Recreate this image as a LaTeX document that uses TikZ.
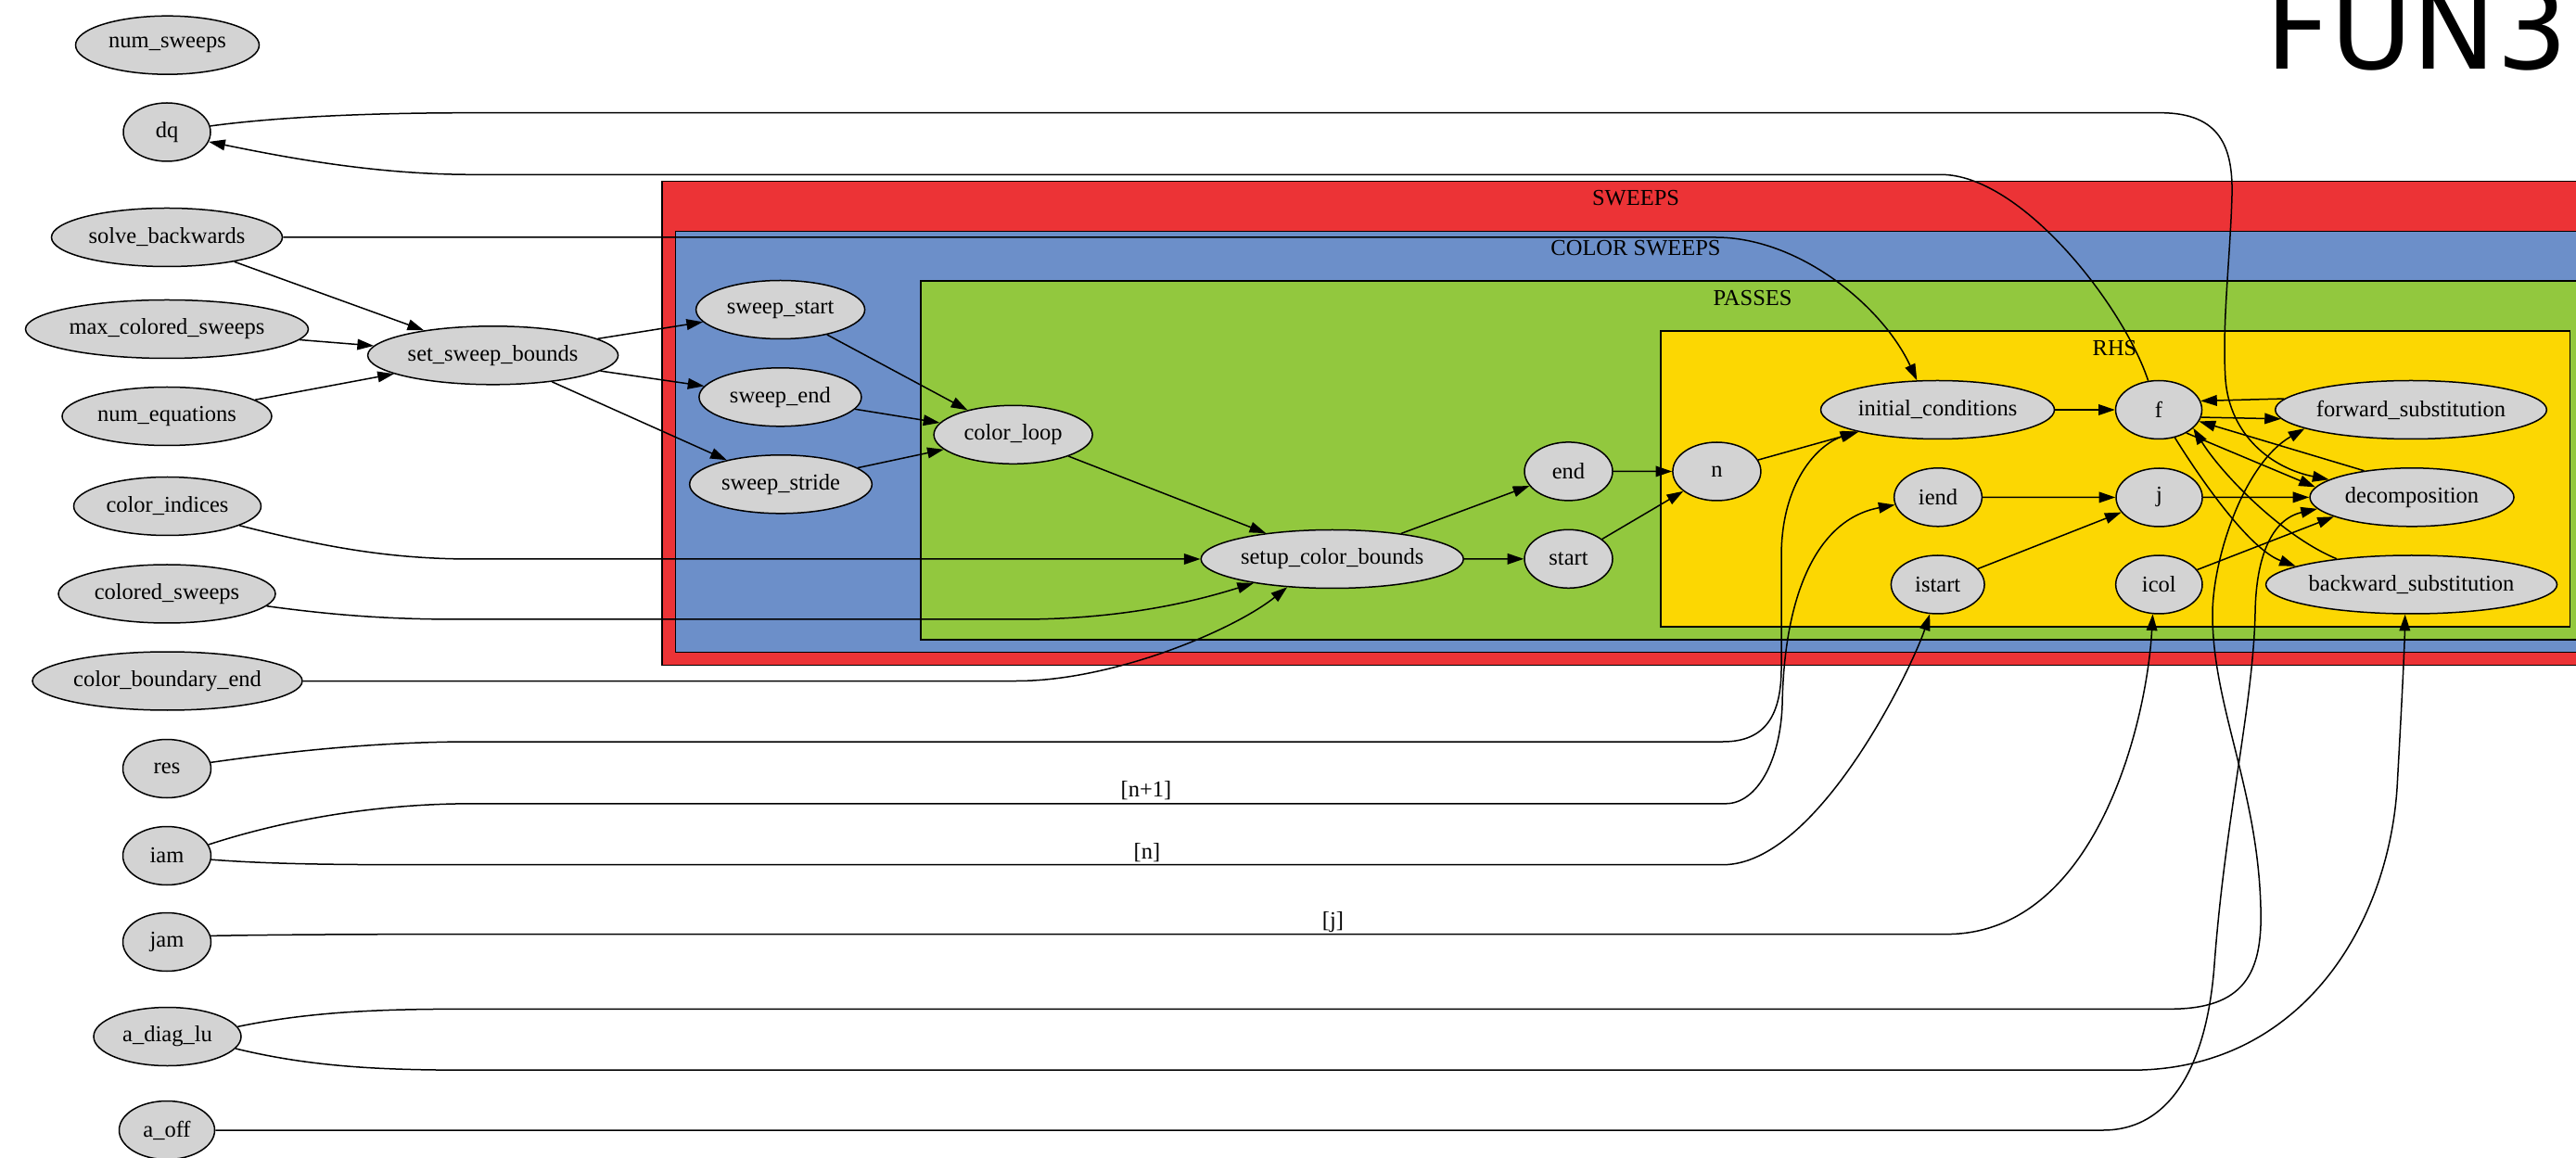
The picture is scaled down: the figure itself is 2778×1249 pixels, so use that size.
\documentclass[tikz,border=0pt]{standalone}
\usepackage{fontspec}
\setmainfont{Liberation Serif}
\newfontfamily\titlefam{DejaVu Sans}
\usetikzlibrary{shapes.geometric,arrows.meta}
\definecolor{sweepred}{HTML}{EC3336}
\definecolor{colblue}{HTML}{6C8FC9}
\definecolor{passgreen}{HTML}{92C83E}
\definecolor{rhsyellow}{HTML}{FCD702}
\definecolor{ndgray}{HTML}{D3D3D3}
\newcommand\ndfont{\fontsize{7.35}{8.8}\selectfont}
\begin{document}
\begin{tikzpicture}[x=0.3pt,y=-0.3pt,
  nd/.style={ellipse,draw=black,fill=ndgray,line width=0.45pt,inner sep=0pt,minimum height=18.9pt,font=\ndfont},
  edge/.style={draw=black,line width=0.45pt,-{Triangle[length=5.3pt,width=3.5pt]}},
  cluster/.style={draw=black,line width=0.45pt},
  clab/.style={font=\ndfont,inner sep=0pt},
  elab/.style={font=\ndfont,inner sep=0pt}]
\useasboundingbox (0,0) rectangle (2778,1249);
\clip (0,0) rectangle (2778,1249);

% clusters
\draw[cluster,fill=sweepred] (714,195.5) rectangle (2814,717.5);
\draw[cluster,fill=colblue] (728.5,249.5) rectangle (2800,703.5);
\draw[cluster,fill=passgreen] (993,303) rectangle (2787,690);
\draw[cluster,fill=rhsyellow] (1791,357) rectangle (2771.5,676);
\node[clab] (lab_sweeps) at (1764,214) {SWEEPS};
\node[clab] (lab_colsweeps) at (1764,268) {COLOR SWEEPS};
\node[clab] (lab_passes) at (1890,322) {PASSES};
\node[clab] (lab_rhs) at (2280.5,376) {RHS};

% title
\node[anchor=base west,inner sep=0pt,font={\titlefam\fontsize{36.3}{40}\selectfont}] (title) at (2443,75) {FUN3};

% left column
\node[nd,minimum width=59.4pt] (num_sweeps) at (180.5,48.7) {num\_sweeps};
\node[nd,minimum width=28.2pt] (dq) at (180,142.5) {dq};
\node[nd,minimum width=74.7pt] (solve_backwards) at (180,256) {solve\_backwards};
\node[nd,minimum width=91.5pt] (max_colored_sweeps) at (180,355) {max\_colored\_sweeps};
\node[nd,minimum width=67.8pt] (num_equations) at (180,449) {num\_equations};
\node[nd,minimum width=60.6pt] (color_indices) at (180.5,546) {color\_indices};
\node[nd,minimum width=70.2pt] (colored_sweeps) at (180,640.5) {colored\_sweeps};
\node[nd,minimum width=87.3pt] (color_boundary_end) at (180.5,734.5) {color\_boundary\_end};
\node[nd,minimum width=28.5pt] (res) at (180,829) {res};
\node[nd,minimum width=28.5pt] (iam) at (180,923) {iam};
\node[nd,minimum width=28.5pt] (jam) at (180,1016) {jam};
\node[nd,minimum width=47.7pt] (a_diag_lu) at (180.5,1118) {a\_diag\_lu};
\node[nd,minimum width=30.9pt] (a_off) at (180,1219) {a\_off};

% middle
\node[nd,minimum width=81pt] (set_sweep_bounds) at (531.6,383.3) {set\_sweep\_bounds};
\node[nd,minimum width=54.6pt] (sweep_start) at (841.6,334) {sweep\_start};
\node[nd,minimum width=52.5pt] (sweep_end) at (841.4,428.3) {sweep\_end};
\node[nd,minimum width=59pt] (sweep_stride) at (842,522.3) {sweep\_stride};
\node[nd,minimum width=51.3pt] (color_loop) at (1092.6,468.8) {color\_loop};
\node[nd,minimum width=84.9pt] (setup_color_bounds) at (1436.7,603) {setup\_color\_bounds};
\node[nd,minimum width=28.5pt] (nend) at (1691.5,508.4) {end};
\node[nd,minimum width=28.5pt] (nstart) at (1691.5,602.8) {start};

% RHS
\node[nd,minimum width=28.5pt] (n) at (1851.4,508.5) {n};
\node[nd,minimum width=75.6pt] (initial_conditions) at (2089.5,442) {initial\_conditions};
\node[nd,minimum width=28.4pt] (iend) at (2090,536.3) {iend};
\node[nd,minimum width=30.2pt] (istart) at (2089.7,630.5) {istart};
\node[nd,minimum width=27.9pt] (f) at (2328,442) {f};
\node[nd,minimum width=27.9pt] (j) at (2328.5,536.5) {j};
\node[nd,minimum width=28pt] (icol) at (2328.3,630.5) {icol};
\node[nd,minimum width=87.8pt] (forward_substitution) at (2600,442) {forward\_substitution};
\node[nd,minimum width=66pt] (decomposition) at (2601,536.3) {decomposition};
\node[nd,minimum width=94.2pt] (backward_substitution) at (2600.5,630.5) {backward\_substitution};

% short edges
\draw[edge] (solve_backwards) -- (set_sweep_bounds);
\draw[edge] (max_colored_sweeps) -- (set_sweep_bounds);
\draw[edge] (num_equations) -- (set_sweep_bounds);
\draw[edge] (set_sweep_bounds) -- (sweep_start);
\draw[edge] (set_sweep_bounds) -- (sweep_end);
\draw[edge] (set_sweep_bounds) -- (sweep_stride);
\draw[edge] (sweep_start) -- (color_loop);
\draw[edge] (sweep_end) -- (color_loop);
\draw[edge] (sweep_stride) -- (color_loop);
\draw[edge] (color_loop) -- (setup_color_bounds);
\draw[edge] (setup_color_bounds) -- (nend);
\draw[edge] (setup_color_bounds) -- (nstart);
\draw[edge] (nend) -- (n);
\draw[edge] (nstart) -- (n);
\draw[edge] (n) -- (initial_conditions);
\draw[edge] (initial_conditions) -- (f);
\draw[edge] (iend) -- (j);
\draw[edge] (istart) -- (j);
\draw[edge] (j) -- (decomposition);
\draw[edge] (icol) -- (decomposition.194);
\draw[edge] (forward_substitution.175.7) -- (f.12);
\draw[edge] (f.-10) -- (forward_substitution.184.5);
\draw[edge] (decomposition.151) -- (f.-16);
\draw[edge] (f.-40) -- (decomposition.174);
\draw[edge] (backward_substitution.161) .. controls (2460,578) and (2395,510) .. (f.-28);
\draw[edge] (f.-60) .. controls (2372,515) and (2425,592) .. (backward_substitution.171.5);

% long edges
\draw[edge] (dq.8) .. controls (300,126) and (400,121.7) .. (510,121.7) -- (2330,121.7)
  .. controls (2395,121.7) and (2408,160) .. (2407,210)
  .. controls (2405,280) and (2396,350) .. (2400,410)
  .. controls (2405,470) and (2450,505) .. (decomposition.168);
\draw[edge] (f.110) .. controls (2290,330) and (2180,188.3) .. (2093,188.3) -- (510,188.3)
  .. controls (400,188.3) and (300,168) .. (dq.-13);
\draw[edge] (solve_backwards.east) -- (1850,256) .. controls (1940,256) and (2030,330) .. (initial_conditions.125);
\draw[edge] (color_indices.-15) .. controls (350,590) and (420,603) .. (510,603) -- (setup_color_bounds.west);
\draw[edge] (colored_sweeps.-7) .. controls (370,665) and (430,668) .. (497,668) -- (1100,668)
  .. controls (1220,668) and (1300,645) .. (setup_color_bounds.197);
\draw[edge] (color_boundary_end.east) -- (1096,734.5) .. controls (1200,734.5) and (1330,680) .. (setup_color_bounds.212);
\draw[edge] (res.8) .. controls (300,812) and (400,800) .. (510,800) -- (1858,800)
  .. controls (1905,800) and (1921,770) .. (1921,720) -- (1921,600)
  .. controls (1921,520) and (1960,480) .. (initial_conditions.195);
\draw[edge] (iam.15) .. controls (320,880) and (420,866.8) .. (510,866.8) -- (1861,866.8)
  .. controls (1895,866.8) and (1920,820) .. (1922,760)
  .. controls (1924,640) and (1960,560) .. (iend.190);
\draw[edge] (iam.-5) .. controls (300,932.7) and (380,932.7) .. (478,932.7) -- (1858,932.7)
  .. controls (1960,932.7) and (2062,720) .. (istart.255);
\draw[edge] (jam.8) .. controls (300,1008) and (400,1007.6) .. (510,1007.6) -- (2099,1007.6)
  .. controls (2260,1007.6) and (2315,780) .. (icol.258);
\draw[edge] (a_diag_lu.8) .. controls (340,1090) and (420,1088.3) .. (510,1088.3) -- (2340,1088.3)
  .. controls (2420,1088.3) and (2440,1050) .. (2438,980)
  .. controls (2435,850) and (2385,760) .. (2386,660)
  .. controls (2387,600) and (2420,500) .. (forward_substitution.190);
\draw[edge] (a_diag_lu.-10) .. controls (340,1152) and (420,1154.2) .. (510,1154.2) -- (2299,1154.2)
  .. controls (2480,1154.2) and (2575,1000) .. (2585,850)
  .. controls (2590,760) and (2593,700) .. (backward_substitution.258);
\draw[edge] (a_off.east) -- (2268,1219) .. controls (2340,1219) and (2380,1150) .. (2388,1040)
  .. controls (2400,880) and (2430,760) .. (2432,660)
  .. controls (2433,600) and (2450,560) .. (decomposition.187);

% edge labels
\node[elab] (lbl_np1) at (1236,853) {[n+1]};
\node[elab] (lbl_n) at (1237,920) {[n]};
\node[elab] (lbl_j) at (1437.5,995) {[j]};
\end{tikzpicture}
\end{document}
